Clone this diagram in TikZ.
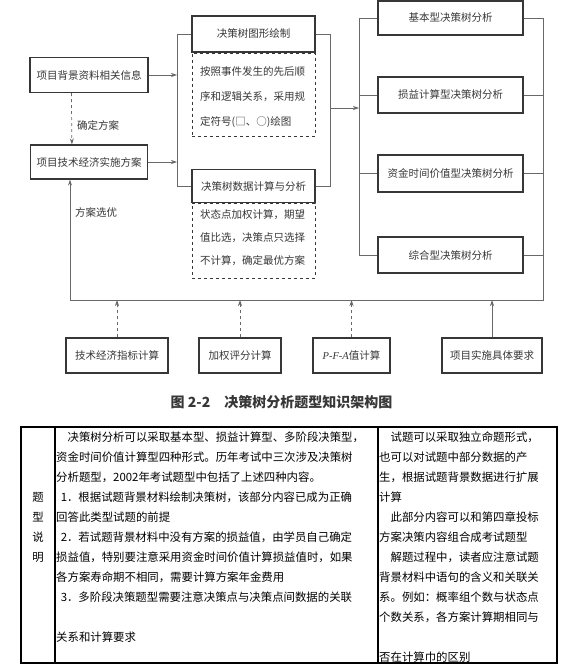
\documentclass[tikz,border=0pt]{standalone}
\usepackage{fontspec}
\setmainfont{Noto Sans CJK SC}
\newfontfamily\serifit{Liberation Serif}
\usetikzlibrary{positioning, arrows.meta, calc}
\definecolor{scanInk}{RGB}{55,55,55}
\definecolor{scanLine}{RGB}{105,105,105}

\begin{document}
\begin{tikzpicture}[
  x=1pt, y=-1pt,
  box/.style={draw=scanInk, line width=1.2pt, text=scanInk, font=\fontsize{10.5}{12}\selectfont, minimum height=35pt, inner sep=0pt},
  notebox/.style={draw=scanInk, dashed, line width=0.7pt, inner sep=0pt, anchor=north},
  noteline/.style={text=scanInk, font=\fontsize{10.5}{12}\selectfont, anchor=west, inner sep=0pt},
  link/.style={draw=scanLine, line width=0.7pt},
  arrow/.style={link, -{Stealth[length=6pt, width=4pt]}},
  cell/.style={font=\fontsize{11.4}{13}\selectfont, anchor=west, inner sep=0pt},
]
  \fill[white] (0,0) rectangle (560,669);
  \useasboundingbox (0,0) rectangle (560,669);

  % left column
  \node[box, minimum width=118pt] (info) at (89,75) {项目背景资料相关信息};
  \node[box, minimum width=117pt, minimum height=34pt] (plan) at (89,162) {项目技术经济实施方案};
  \node[noteline] at (77,125) {确定方案};
  \node[noteline] at (75,212) {方案选优};

  % middle column
  \node[box, minimum width=123pt, minimum height=36pt] (treedraw) at (253.5,34) {决策树图形绘制};
  \node[notebox, minimum width=123pt, minimum height=83pt] (drawnote) at (treedraw.south) {};
  \foreach \y/\t in {72/按照事件发生的先后顺, 97/序和逻辑关系，采用规, 122/{定符号(□、○)绘图}}
    \node[noteline] at (200,\y) {\t};
  \node[box, minimum width=123pt, minimum height=33pt] (treecalc) at (253.5,186) {决策树数据计算与分析};
  \node[notebox, minimum width=123pt, minimum height=75pt] (calcnote) at (treecalc.south) {};
  \foreach \y/\t in {215/状态点加权计算，期望, 238/值比选，决策点只选择, 261/不计算，确定最优方案}
    \node[noteline] at (200,\y) {\t};

  % right column
  \node[box, minimum width=145pt, minimum height=34pt] (basic) at (450.5,18) {基本型决策树分析};
  \node[box, minimum width=145pt, minimum height=36pt] (profit) at (450.5,95) {损益计算型决策树分析};
  \node[box, minimum width=145pt, minimum height=37pt] (timeval) at (450.5,173.5) {资金时间价值型决策树分析};
  \node[box, minimum width=145pt, minimum height=36pt] (combo) at (450.5,255) {综合型决策树分析};

  % bottom row
  \node[box, minimum width=102pt] (idx) at (117,355.5) {技术经济指标计算};
  \node[box, minimum width=82pt] (score) at (240,355.5) {加权评分计算};
  \node[box, minimum width=77pt] (pfa) at (351.5,355.5) {{\serifit\itshape P-F-A}值计算};
  \node[box, minimum width=100pt] (req) at (492,355.5) {项目实施具体要求};

  % buses
  \coordinate (lbus) at (177,0);
  \coordinate (mbus) at (330,0);
  \coordinate (mid) at (330,108);
  \coordinate (rbus) at (359,0);
  \coordinate (obus) at (543,300);
  \coordinate (sel) at (70,300);

  \draw[arrow] (info.east) -- (info.east -| lbus);
  \draw[arrow] (plan.east) -- (plan.east -| lbus);
  \draw[link] (treedraw.west) -| (lbus |- treecalc.west) -- (treecalc.west);
  \draw[link] (treedraw.east) -| (mbus |- treecalc.east) -- (treecalc.east);
  \draw[arrow] (mid) -- (mid -| rbus);
  \draw[link] (basic.west) -| (rbus |- combo.west) -- (combo.west);
  \foreach \n in {profit,timeval}
    \draw[link] (\n.west) -- (\n.west -| rbus);
  \draw[link] (basic.east) -| (obus) -- (sel);
  \foreach \n in {profit,timeval,combo}
    \draw[link] (\n.east) -- (\n.east -| obus);
  \draw[arrow] (sel) -- (sel |- plan.south);
  \draw[arrow, dashed] ([xshift=42pt]info.south west) -- ([xshift=42pt]plan.north west);
  \foreach \n in {idx,score,pfa}
    \draw[arrow, dashed] (\n.north) -- (\n.north |- sel);
  \draw[arrow] (req.north) -- (req.north |- sel);

  \node[font=\fontsize{14}{16}\selectfont\bfseries, text=scanInk] (caption) at (281.5,402) {图 2-2\hspace{1em}决策树分析题型知识架构图};

  % table
  \draw[line width=2pt] (21,427) rectangle (557,663);
  \draw[line width=1.5pt] (55,427) -- (55,663);
  \draw[line width=1.5pt] (378,427) -- (378,663);
  \foreach \y/\c in {497/题, 517/型, 537/说, 557/明}
    \node[cell, anchor=center] at (38,\y) {\c};
  \foreach \y/\t in {
    437/{\hspace{1em}决策树分析可以采取基本型、损益计算型、多阶段决策型，},
    457/{资金时间价值计算型四种形式。历年考试中三次涉及决策树},
    477/{分析题型，2002年考试题型中包括了上述四种内容。},
    497/{\hspace{0.4em}1．根据试题背景材料绘制决策树，该部分内容已成为正确},
    517/{回答此类型试题的前提},
    537/{\hspace{0.4em}2．若试题背景材料中没有方案的损益值，由学员自己确定},
    557/{损益值，特别要注意采用资金时间价值计算损益值时，如果},
    577/{各方案寿命期不相同，需要计算方案年金费用},
    597/{\hspace{0.4em}3．多阶段决策题型需要注意决策点与决策点间数据的关联},
    637/{关系和计算要求}}
    \node[cell] at (56,\y) {\t};
  \foreach \y/\t in {
    437/{\hspace{1em}试题可以采取独立命题形式，},
    457/{也可以对试题中部分数据的产},
    477/{生，根据试题背景数据进行扩展},
    497/{计算},
    517/{\hspace{1em}此部分内容可以和第四章投标},
    537/{方案决策内容组合成考试题型},
    557/{\hspace{1em}解题过程中，读者应注意试题},
    577/{背景材料中语句的含义和关联关},
    597/{系。例如：概率组个数与状态点},
    617/{个数关系，各方案计算期相同与},
    657/{否在计算巾的区别}}
    \node[cell] at (379,\y) {\t};
\end{tikzpicture}
\end{document}
